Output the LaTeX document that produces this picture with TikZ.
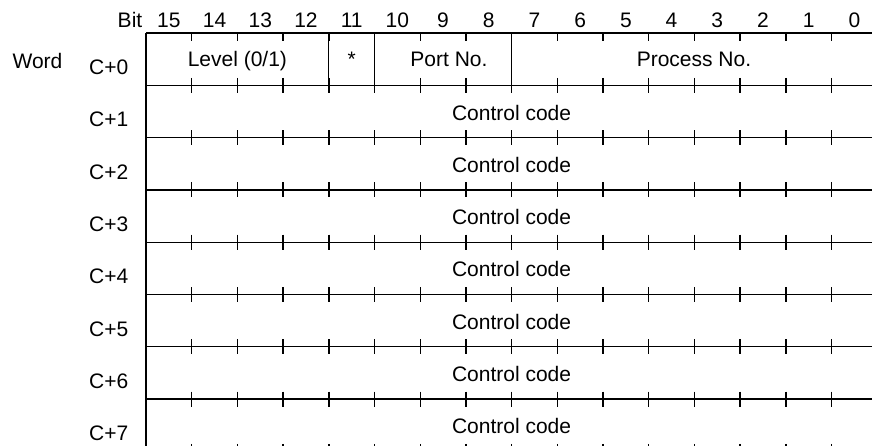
\documentclass[tikz,border=0pt]{standalone}
\usepackage{fontspec}
\setmainfont{Liberation Sans}
\begin{document}
\begin{tikzpicture}[x=1pt,y=-1pt,
  lbl/.style={inner sep=0pt,anchor=base,font=\fontsize{21}{24}\selectfont},
  rule/.style={line width=1.3pt},
  tick/.style={line width=1.4pt}]
\useasboundingbox (0,0) rectangle (872,445);
\clip (0,0) rectangle (872,445);
\def\xo{146}\def\dx{45.7}\def\yo{33}\def\dy{52.3}
% horizontal rules
\foreach \k in {0,...,8}{
  \draw[rule] (\xo,{\yo+\k*\dy}) -- (890,{\yo+\k*\dy});
}
% left border
\draw[rule] (\xo,\yo) -- (\xo,460);
% ticks
\foreach \i in {1,...,16}{
  \draw[tick] ({\xo+\i*\dx},\yo) -- ({\xo+\i*\dx},{\yo+7.5});
  \foreach \k in {1,...,8}{
    \draw[tick] ({\xo+\i*\dx},{\yo+\k*\dy-7.5}) -- ({\xo+\i*\dx},{\yo+\k*\dy+7.5});
  }
}
% field dividers in C+0
\foreach \i in {4,5,8}{
  \draw[rule] ({\xo+\i*\dx},\yo) -- ({\xo+\i*\dx},{\yo+\dy});
}
% header
\node[lbl] (bit) at (130,27.3) {Bit};
\foreach \b [count=\n from 0] in {15,14,...,0}{
  \node[lbl] (b\b) at ({\xo+(\n+0.5)*\dx},27.3) {\b};
}
\node[lbl] (word) at (37.5,68.3) {Word};
\foreach \k in {0,...,7}{
  \node[lbl] (c\k) at (108.8,{74.5+\k*\dy}) {C+\k};
}
% fields
\node[lbl] (level) at ({\xo+2*\dx},66.7) {Level (0/1)};
\node[lbl] (star) at ({\xo+4.5*\dx},66.7) {*};
\node[lbl] (port) at (449,66.7) {Port No.};
\node[lbl] (proc) at (694,66.7) {Process No.};
\foreach \k in {1,...,7}{
  \node[lbl] (cc\k) at ({\xo+8*\dx},{67.7+\k*\dy}) {Control code};
}
\end{tikzpicture}
\end{document}
